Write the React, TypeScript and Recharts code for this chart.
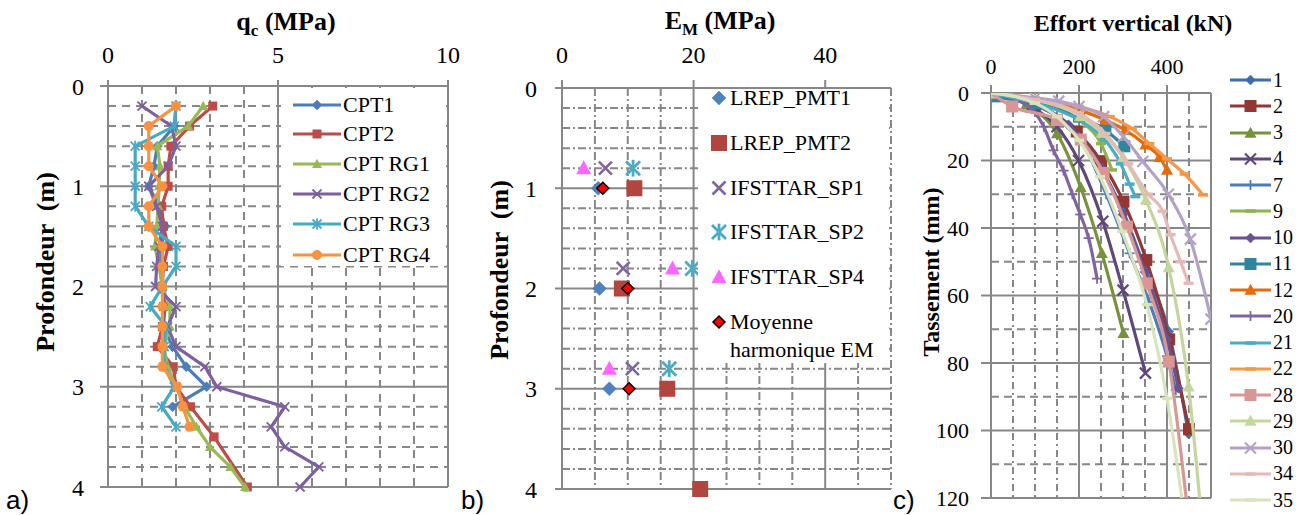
import React from 'react';
import { ScatterChart, Scatter, XAxis, YAxis, CartesianGrid } from 'recharts';

const SERIF = '"Liberation Serif", "Times New Roman", serif';
const SANS = '"Liberation Sans", Arial, sans-serif';
const GRID = '#878787';

type Pt = [number, number];

// a) qc profiles : [profondeur (m), qc (MPa)]
const CPT1: Pt[] = [[0.2, 2.0], [0.4, 1.95], [0.6, 1.45], [0.8, 1.35], [1.0, 1.2], [1.2, 1.5], [1.4, 1.68], [1.6, 1.58], [1.8, 1.53], [2.0, 1.6], [2.2, 1.68], [2.4, 1.63], [2.6, 1.9], [2.8, 2.3], [3.0, 2.9], [3.2, 1.9]];
const CPT2: Pt[] = [[0.2, 3.08], [0.4, 2.4], [0.6, 1.85], [0.8, 1.77], [1.0, 1.77], [1.2, 1.58], [1.4, 1.63], [1.6, 1.77], [1.8, 1.63], [2.0, 1.6], [2.2, 1.63], [2.4, 1.6], [2.6, 1.45], [2.8, 1.92], [3.0, 2.0], [3.2, 2.43], [3.5, 3.12], [4.0, 4.1]];
const CPT_RG1: Pt[] = [[0.2, 2.8], [0.4, 2.36], [0.6, 1.45], [0.8, 1.53], [1.0, 1.5], [1.2, 1.48], [1.4, 1.43], [1.6, 1.38], [1.8, 1.5], [2.0, 1.6], [2.2, 1.82], [2.4, 1.82], [2.6, 1.65], [2.8, 1.75], [3.0, 2.0], [3.2, 2.25], [3.4, 2.6], [3.6, 3.0], [3.8, 3.6], [4.0, 4.03]];
const CPT_RG2: Pt[] = [[0.2, 1.0], [0.4, 1.87], [0.6, 2.0], [0.8, 1.77], [1.0, 1.2], [1.2, 1.43], [1.4, 1.6], [1.6, 1.5], [1.8, 1.43], [2.0, 1.4], [2.2, 2.0], [2.4, 1.75], [2.6, 2.0], [2.8, 2.85], [3.0, 3.2], [3.2, 5.2], [3.4, 4.8], [3.6, 5.2], [3.8, 6.2], [4.0, 5.65]];
const CPT_RG3: Pt[] = [[0.2, 2.0], [0.4, 1.95], [0.6, 0.8], [0.8, 0.8], [1.0, 0.8], [1.2, 0.8], [1.4, 1.2], [1.6, 2.0], [1.8, 2.0], [2.0, 1.6], [2.2, 1.24], [2.4, 1.7], [2.6, 1.65], [2.8, 1.65], [3.0, 1.95], [3.2, 1.58], [3.4, 2.0]];
const CPT_RG4: Pt[] = [[0.2, 2.0], [0.4, 1.2], [0.6, 1.2], [0.8, 1.2], [1.0, 1.6], [1.2, 1.2], [1.4, 1.2], [1.6, 1.6], [1.8, 1.6], [2.0, 1.6], [2.2, 1.6], [2.4, 1.6], [2.6, 1.6], [2.8, 1.6], [3.0, 2.04], [3.2, 2.2], [3.4, 2.4]];

// b) pressiometric moduli : [profondeur (m), EM (MPa)]
const PMT1: Pt[] = [[1.0, 5.5], [2.0, 5.7], [3.0, 7.2]];
const PMT2: Pt[] = [[1.0, 11.0], [2.0, 9.1], [3.0, 16.0], [4.0, 21.0]];
const SP1: Pt[] = [[0.8, 6.6], [1.8, 9.3], [2.8, 10.7]];
const SP2: Pt[] = [[0.8, 10.8], [1.8, 19.8], [2.8, 16.3]];
const SP4: Pt[] = [[0.8, 3.3], [1.8, 16.8], [2.8, 7.2]];
const EM_HARM: Pt[] = [[1.0, 6.2], [2.0, 10.0], [3.0, 10.2]];

// c) load-settlement curves : [effort (kN), tassement (mm)]
const C1: Pt[] = [[0, 0], [100, 3], [180, 10], [240, 20], [300, 35], [350, 52], [404, 70.7], [449, 101]];
const C2: Pt[] = [[0, 0], [100, 3.5], [195, 11.4], [250, 20.2], [301, 32.2], [353, 49.5], [405, 73], [450, 99.6]];
const C3: Pt[] = [[0, 0], [80, 3.5], [150, 12], [204, 28], [252, 47.5], [301, 71.2]];
const C4: Pt[] = [[0, 0], [90, 4], [150, 10], [199, 20], [254, 38], [300, 58.4], [351, 83]];
const C7: Pt[] = [[0, 0], [100, 3.5], [200, 13], [262, 30], [315, 47.5], [360, 62], [400, 78], [420, 88]];
const C9: Pt[] = [[0, 0], [100, 2.5], [200, 8], [250, 15], [275, 22.8]];
const C10: Pt[] = [[0, 0], [100, 3], [176, 9.4], [250, 22], [300, 36], [350, 53], [400, 73], [426, 87.5]];
const C11: Pt[] = [[0, 0], [15, 1], [100, 3], [200, 7], [260, 11], [303, 15.8]];
const C12: Pt[] = [[0, 0], [100, 2], [200, 5], [260, 8], [305, 11], [351, 15.3], [383, 19], [400, 22.8]];
const C20: Pt[] = [[0, 0], [60, 2], [120, 10], [142, 17], [165, 23], [185, 30], [203, 36], [222, 43], [241, 55]];
const C21: Pt[] = [[0, 0], [100, 3], [200, 8], [260, 14], [295, 21], [315, 27], [328, 30.7]];
const C22: Pt[] = [[0, 0], [100, 1.5], [200, 4], [270, 7], [320, 10.5], [360, 15], [400, 19.5], [440, 24], [482, 30.2]];
const C28: Pt[] = [[0, 0], [48, 4], [150, 8], [204, 13.8], [256, 23.7], [309, 39.6], [354, 56.4], [404, 79.6], [452, 130]];
const C29: Pt[] = [[0, 0], [100, 2], [203, 6.9], [252, 11.8], [300, 19], [352, 31.7], [404, 51.7], [449, 87], [481, 130]];
const C30: Pt[] = [[0, 0], [100, 1.5], [154, 2.4], [200, 4], [256, 7], [301, 12.9], [345, 20.3], [403, 30], [453, 43.3], [500, 67]];
const C34: Pt[] = [[0, 0], [100, 2], [200, 6], [260, 12], [312, 21], [357, 30], [390, 35], [408, 42], [431, 50], [449, 56.4]];
const C35: Pt[] = [[0, 0], [100, 3], [150, 7], [200, 14], [248, 24.8], [298, 41], [354, 62.7], [400, 90.5], [444, 130]];

// axis ticks and grid values
const A_X_TICKS = [0, 5, 10];
const A_X_MINOR = [1, 2, 3, 4, 6, 7, 8, 9];
const A_X_MAJOR = [5, 10];
const DEPTH_TICKS = [0, 1, 2, 3, 4];
const DEPTH_MAJOR = [1, 2, 3, 4];
const DEPTH_MINOR = [0.2, 0.4, 0.6, 0.8, 1.2, 1.4, 1.6, 1.8, 2.2, 2.4, 2.6, 2.8, 3.2, 3.4, 3.6, 3.8];
const B_X_TICKS = [0, 20, 40];
const B_X_MAJOR = [20, 40];
const B_X_MINOR = [5, 10, 15, 25, 30, 35, 45, 50];
const C_X_TICKS = [0, 200, 400];
const C_X_MAJOR = [200, 400, 500];
const C_X_MINOR_DOT = [50, 100, 150];
const C_X_MINOR_DASH = [250, 300, 350, 450];
const C_Y_TICKS = [0, 20, 40, 60, 80, 100, 120];
const C_Y_MAJOR = [20, 40, 60, 80, 100, 120];
const C_Y_MINOR = [10, 30, 50, 70, 90, 110];

type Kind = 'diamond' | 'square' | 'triangle' | 'x' | 'star' | 'circle' | 'plus' | 'dash';

type Series = { name: string; pts: Pt[]; color: string; kind: Kind; size: number; edge?: string };

const SERIES_A: Series[] = [
  { name: 'CPT1', pts: CPT1, color: '#4A7EBB', kind: 'diamond', size: 10 },
  { name: 'CPT2', pts: CPT2, color: '#BE4B48', kind: 'square', size: 9 },
  { name: 'CPT RG1', pts: CPT_RG1, color: '#98B954', kind: 'triangle', size: 10 },
  { name: 'CPT RG2', pts: CPT_RG2, color: '#7D60A0', kind: 'x', size: 9 },
  { name: 'CPT RG3', pts: CPT_RG3, color: '#46AAC5', kind: 'star', size: 9 },
  { name: 'CPT RG4', pts: CPT_RG4, color: '#F69240', kind: 'circle', size: 10 },
];

const SERIES_B: Series[] = [
  { name: 'LREP_PMT1', pts: PMT1, color: '#4F81BD', kind: 'diamond', size: 14 },
  { name: 'LREP_PMT2', pts: PMT2, color: '#B0463F', kind: 'square', size: 16 },
  { name: 'IFSTTAR_SP1', pts: SP1, color: '#8064A2', kind: 'x', size: 13 },
  { name: 'IFSTTAR_SP2', pts: SP2, color: '#4BACC6', kind: 'star', size: 14 },
  { name: 'IFSTTAR_SP4', pts: SP4, color: '#FF66FF', kind: 'triangle', size: 15 },
  { name: 'Moyenne harmonique EM', pts: EM_HARM, color: '#FF0000', kind: 'diamond', size: 12, edge: '#000' },
];

const SERIES_C: Series[] = [
  { name: '1', pts: C1, color: '#3D6DAA', kind: 'diamond', size: 10 },
  { name: '2', pts: C2, color: '#943634', kind: 'square', size: 12 },
  { name: '3', pts: C3, color: '#76923C', kind: 'triangle', size: 12 },
  { name: '4', pts: C4, color: '#5F497A', kind: 'x', size: 11 },
  { name: '7', pts: C7, color: '#4A7EBB', kind: 'plus', size: 10 },
  { name: '9', pts: C9, color: '#8EB34F', kind: 'dash', size: 10 },
  { name: '10', pts: C10, color: '#6A5290', kind: 'diamond', size: 10 },
  { name: '11', pts: C11, color: '#31859C', kind: 'square', size: 12 },
  { name: '12', pts: C12, color: '#E46C0A', kind: 'triangle', size: 12 },
  { name: '20', pts: C20, color: '#8064A2', kind: 'plus', size: 10 },
  { name: '21', pts: C21, color: '#4BACC6', kind: 'dash', size: 10 },
  { name: '22', pts: C22, color: '#F79646', kind: 'dash', size: 10 },
  { name: '28', pts: C28, color: '#D99694', kind: 'square', size: 12 },
  { name: '29', pts: C29, color: '#C3D69B', kind: 'triangle', size: 12 },
  { name: '30', pts: C30, color: '#B3A2C7', kind: 'x', size: 11 },
  { name: '34', pts: C34, color: '#E6B9B8', kind: 'dash', size: 10 },
  { name: '35', pts: C35, color: '#D7E4BD', kind: 'dash', size: 10 },
];

const depthXY = (pts: Pt[]) => pts.map(([d, v]) => ({ x: v, y: d }));
const loadXY = (pts: Pt[]) => pts.map(([f, s]) => ({ x: f, y: s }));

function Marker({ kind, cx, cy, size, color, edge }: { kind: Kind; cx: number; cy: number; size: number; color: string; edge?: string }) {
  if (cx == null || cy == null) return <g />;
  const h = size / 2;
  const sw = Math.max(1.6, size / 5);
  switch (kind) {
    case 'diamond':
      return <polygon points={`${cx},${cy - h} ${cx + h},${cy} ${cx},${cy + h} ${cx - h},${cy}`} fill={color} stroke={edge || color} strokeWidth={edge ? 1.5 : 0.5} />;
    case 'square':
      return <rect x={cx - h} y={cy - h} width={size} height={size} fill={color} />;
    case 'triangle':
      return <polygon points={`${cx},${cy - h * 1.05} ${cx + h},${cy + h * 0.8} ${cx - h},${cy + h * 0.8}`} fill={color} />;
    case 'circle':
      return <circle cx={cx} cy={cy} r={h} fill={color} />;
    case 'x':
      return (
        <g stroke={color} strokeWidth={sw}>
          <line x1={cx - h} y1={cy - h} x2={cx + h} y2={cy + h} />
          <line x1={cx - h} y1={cy + h} x2={cx + h} y2={cy - h} />
        </g>
      );
    case 'star':
      return (
        <g stroke={color} strokeWidth={sw}>
          <line x1={cx - h} y1={cy - h} x2={cx + h} y2={cy + h} />
          <line x1={cx - h} y1={cy + h} x2={cx + h} y2={cy - h} />
          <line x1={cx} y1={cy - h * 1.2} x2={cx} y2={cy + h * 1.2} />
        </g>
      );
    case 'plus':
      return (
        <g stroke={color} strokeWidth={1.8}>
          <line x1={cx - h} y1={cy} x2={cx + h} y2={cy} />
          <line x1={cx} y1={cy - h} x2={cx} y2={cy + h} />
        </g>
      );
    case 'dash':
    default:
      return <rect x={cx - h} y={cy - 1.75} width={size} height={3.5} fill={color} />;
  }
}

const tickStyle = (fontSize: number) => ({ fill: '#000', fontSize, fontFamily: SERIF });
const axisStroke = { stroke: GRID, strokeWidth: 2 };

function Swatch({ s, width, line }: { s: Series; width: number; line: boolean }) {
  return (
    <svg width={width} height={22} style={{ display: 'block', flex: 'none' }}>
      {line && <line x1={0} x2={width} y1={11} y2={11} stroke={s.color} strokeWidth={3} />}
      <Marker kind={s.kind} cx={width / 2} cy={11} size={s.size} color={s.color} edge={s.edge} />
    </svg>
  );
}

function PanelA() {
  return (
    <div style={{ position: 'absolute', left: 0, top: 0 }}>
      <ScatterChart width={460} height={515} margin={{ top: 0, right: 12, bottom: 28, left: 0 }}>
        <CartesianGrid verticalValues={A_X_MINOR} horizontalValues={DEPTH_MINOR} stroke={GRID} strokeWidth={2} strokeDasharray="8 6" />
        <CartesianGrid verticalValues={A_X_MAJOR} horizontalValues={DEPTH_MAJOR} stroke={GRID} strokeWidth={2} />
        <XAxis type="number" dataKey="x" orientation="top" domain={[0, 10]} ticks={A_X_TICKS} interval={0} height={86}
          tick={tickStyle(24)} tickSize={6} tickMargin={17} axisLine={axisStroke} tickLine={axisStroke} />
        <YAxis type="number" dataKey="y" domain={[0, 4]} reversed ticks={DEPTH_TICKS} interval={0} width={108}
          tick={tickStyle(24)} tickSize={8} tickMargin={16} axisLine={axisStroke} tickLine={axisStroke} />
        {SERIES_A.map((s) => (
          <Scatter key={s.name} name={s.name} data={depthXY(s.pts)} fill={s.color} isAnimationActive={false}
            line={{ stroke: s.color, strokeWidth: 3.2 }}
            shape={(p: any) => <Marker kind={s.kind} cx={p.cx} cy={p.cy} size={s.size} color={s.color} />} />
        ))}
      </ScatterChart>
    </div>
  );
}

function PanelB() {
  return (
    <div style={{ position: 'absolute', left: 460, top: 0 }}>
      <ScatterChart width={440} height={515} margin={{ top: 0, right: 9, bottom: 26, left: 0 }}>
        <CartesianGrid verticalValues={B_X_MINOR} horizontalValues={DEPTH_MINOR} stroke={GRID} strokeWidth={2} strokeDasharray="8 3 2 3" />
        <CartesianGrid verticalValues={B_X_MAJOR} horizontalValues={DEPTH_MAJOR} stroke={GRID} strokeWidth={2} />
        <XAxis type="number" dataKey="x" orientation="top" domain={[0, 50]} ticks={B_X_TICKS} interval={0} height={88}
          tick={tickStyle(24)} tickSize={8} tickMargin={17} axisLine={axisStroke} tickLine={axisStroke} />
        <YAxis type="number" dataKey="y" domain={[0, 4]} reversed ticks={DEPTH_TICKS} interval={0} width={102}
          tick={tickStyle(24)} tickSize={7} tickMargin={18} axisLine={axisStroke} tickLine={axisStroke} />
        {SERIES_B.map((s) => (
          <Scatter key={s.name} name={s.name} data={depthXY(s.pts)} fill={s.color} isAnimationActive={false}
            shape={(p: any) => <Marker kind={s.kind} cx={p.cx} cy={p.cy} size={s.size} color={s.color} edge={s.edge} />} />
        ))}
      </ScatterChart>
    </div>
  );
}

function PanelC() {
  return (
    <div style={{ position: 'absolute', left: 900, top: 0 }}>
      <ScatterChart width={402} height={515} margin={{ top: 0, right: 91, bottom: 17, left: 0 }}>
        <CartesianGrid vertical={false} horizontalValues={C_Y_MINOR} stroke={GRID} strokeWidth={2} strokeDasharray="8 5" />
        <CartesianGrid horizontal={false} verticalValues={C_X_MINOR_DOT} stroke={GRID} strokeWidth={2} strokeDasharray="7 4 2 4" />
        <CartesianGrid horizontal={false} verticalValues={C_X_MINOR_DASH} stroke={GRID} strokeWidth={2} strokeDasharray="8 5" />
        <CartesianGrid verticalValues={C_X_MAJOR} horizontalValues={C_Y_MAJOR} stroke={GRID} strokeWidth={2} />
        <XAxis type="number" dataKey="x" orientation="top" domain={[0, 500]} allowDataOverflow ticks={C_X_TICKS} interval={0} height={93}
          tick={tickStyle(22)} tickSize={8} tickMargin={11} axisLine={axisStroke} tickLine={axisStroke} />
        <YAxis type="number" dataKey="y" domain={[0, 120]} allowDataOverflow reversed ticks={C_Y_TICKS} interval={0} width={91}
          tick={tickStyle(22)} tickSize={10} tickMargin={12} axisLine={axisStroke} tickLine={axisStroke} />
        {SERIES_C.map((s) => (
          <Scatter key={s.name} name={s.name} data={loadXY(s.pts)} fill={s.color} isAnimationActive={false}
            line={{ stroke: s.color, strokeWidth: 3.2 }} lineJointType="monotoneX"
            shape={(p: any) => <Marker kind={s.kind} cx={p.cx} cy={p.cy} size={s.size} color={s.color} />} />
        ))}
      </ScatterChart>
    </div>
  );
}

const LEGEND_A_ROWS = [105, 134, 164, 194, 224, 255];
const LEGEND_B_ROWS = [99, 144, 189, 233, 278, 323];

export default function App() {
  return (
    <div style={{ position: 'absolute', left: 0, top: 0, width: 1302, height: 515, background: '#fff', overflow: 'hidden' }}>
      <PanelA />
      <PanelB />
      <PanelC />

      <svg width={1302} height={515} style={{ position: 'absolute', left: 0, top: 0, pointerEvents: 'none' }}>
        <text x={286} y={30} textAnchor="middle" fontFamily={SERIF} fontWeight="bold" fontSize={26}>
          q<tspan fontSize={17} dy={6}>c</tspan><tspan dy={-6}> (MPa)</tspan>
        </text>
        <text x={720} y={29} textAnchor="middle" fontFamily={SERIF} fontWeight="bold" fontSize={26}>
          E<tspan fontSize={17} dy={6}>M</tspan><tspan dy={-6}> (MPa)</tspan>
        </text>
        <text x={1133} y={31} textAnchor="middle" fontFamily={SERIF} fontWeight="bold" fontSize={24}>Effort vertical (kN)</text>
        <text transform="translate(54,262) rotate(-90)" textAnchor="middle" fontFamily={SERIF} fontWeight="bold" fontSize={26} style={{ whiteSpace: 'pre' }}>Profondeur  (m)</text>
        <text transform="translate(508,270) rotate(-90)" textAnchor="middle" fontFamily={SERIF} fontWeight="bold" fontSize={26} style={{ whiteSpace: 'pre' }}>Profondeur  (m)</text>
        <text transform="translate(939,272) rotate(-90)" textAnchor="middle" fontFamily={SERIF} fontWeight="bold" fontSize={24}>Tassement (mm)</text>
        <text x={6} y={509} fontFamily={SANS} fontSize={26}>a)</text>
        <text x={461} y={509} fontFamily={SANS} fontSize={26}>b)</text>
        <text x={893} y={509} fontFamily={SANS} fontSize={26}>c)</text>
      </svg>

      {/* legend a */}
      <div style={{ position: 'absolute', left: 281, top: 88, width: 165, height: 178, background: '#fff' }} />
      {SERIES_A.map((s, i) => (
        <div key={s.name} style={{ position: 'absolute', left: 293, top: LEGEND_A_ROWS[i] - 15, height: 30, display: 'flex', alignItems: 'center', fontFamily: SERIF, fontSize: 22, whiteSpace: 'nowrap' }}>
          <Swatch s={s} width={48} line />
          <span style={{ marginLeft: 2 }}>{s.name}</span>
        </div>
      ))}

      {/* legend b */}
      <div style={{ position: 'absolute', left: 698, top: 89, width: 191, height: 274, background: '#fff' }} />
      {SERIES_B.map((s, i) => (
        <div key={s.name} style={{ position: 'absolute', left: 708, top: LEGEND_B_ROWS[i] - 15, display: 'flex', alignItems: 'flex-start', fontFamily: SERIF, fontSize: 22, lineHeight: '28px' }}>
          <div style={{ marginTop: 3 }}><Swatch s={s} width={22} line={false} /></div>
          <span style={{ whiteSpace: 'nowrap' }}>
            {i === 5 ? (<>Moyenne<br />harmonique EM</>) : s.name}
          </span>
        </div>
      ))}

      {/* legend c */}
      {SERIES_C.map((s, i) => (
        <div key={s.name} style={{ position: 'absolute', left: 1230, top: 80 + i * 26.25 - 13, height: 26, display: 'flex', alignItems: 'center', fontFamily: SERIF, fontSize: 20 }}>
          <Swatch s={s} width={41} line />
          <span style={{ marginLeft: 2 }}>{s.name}</span>
        </div>
      ))}
    </div>
  );
}
